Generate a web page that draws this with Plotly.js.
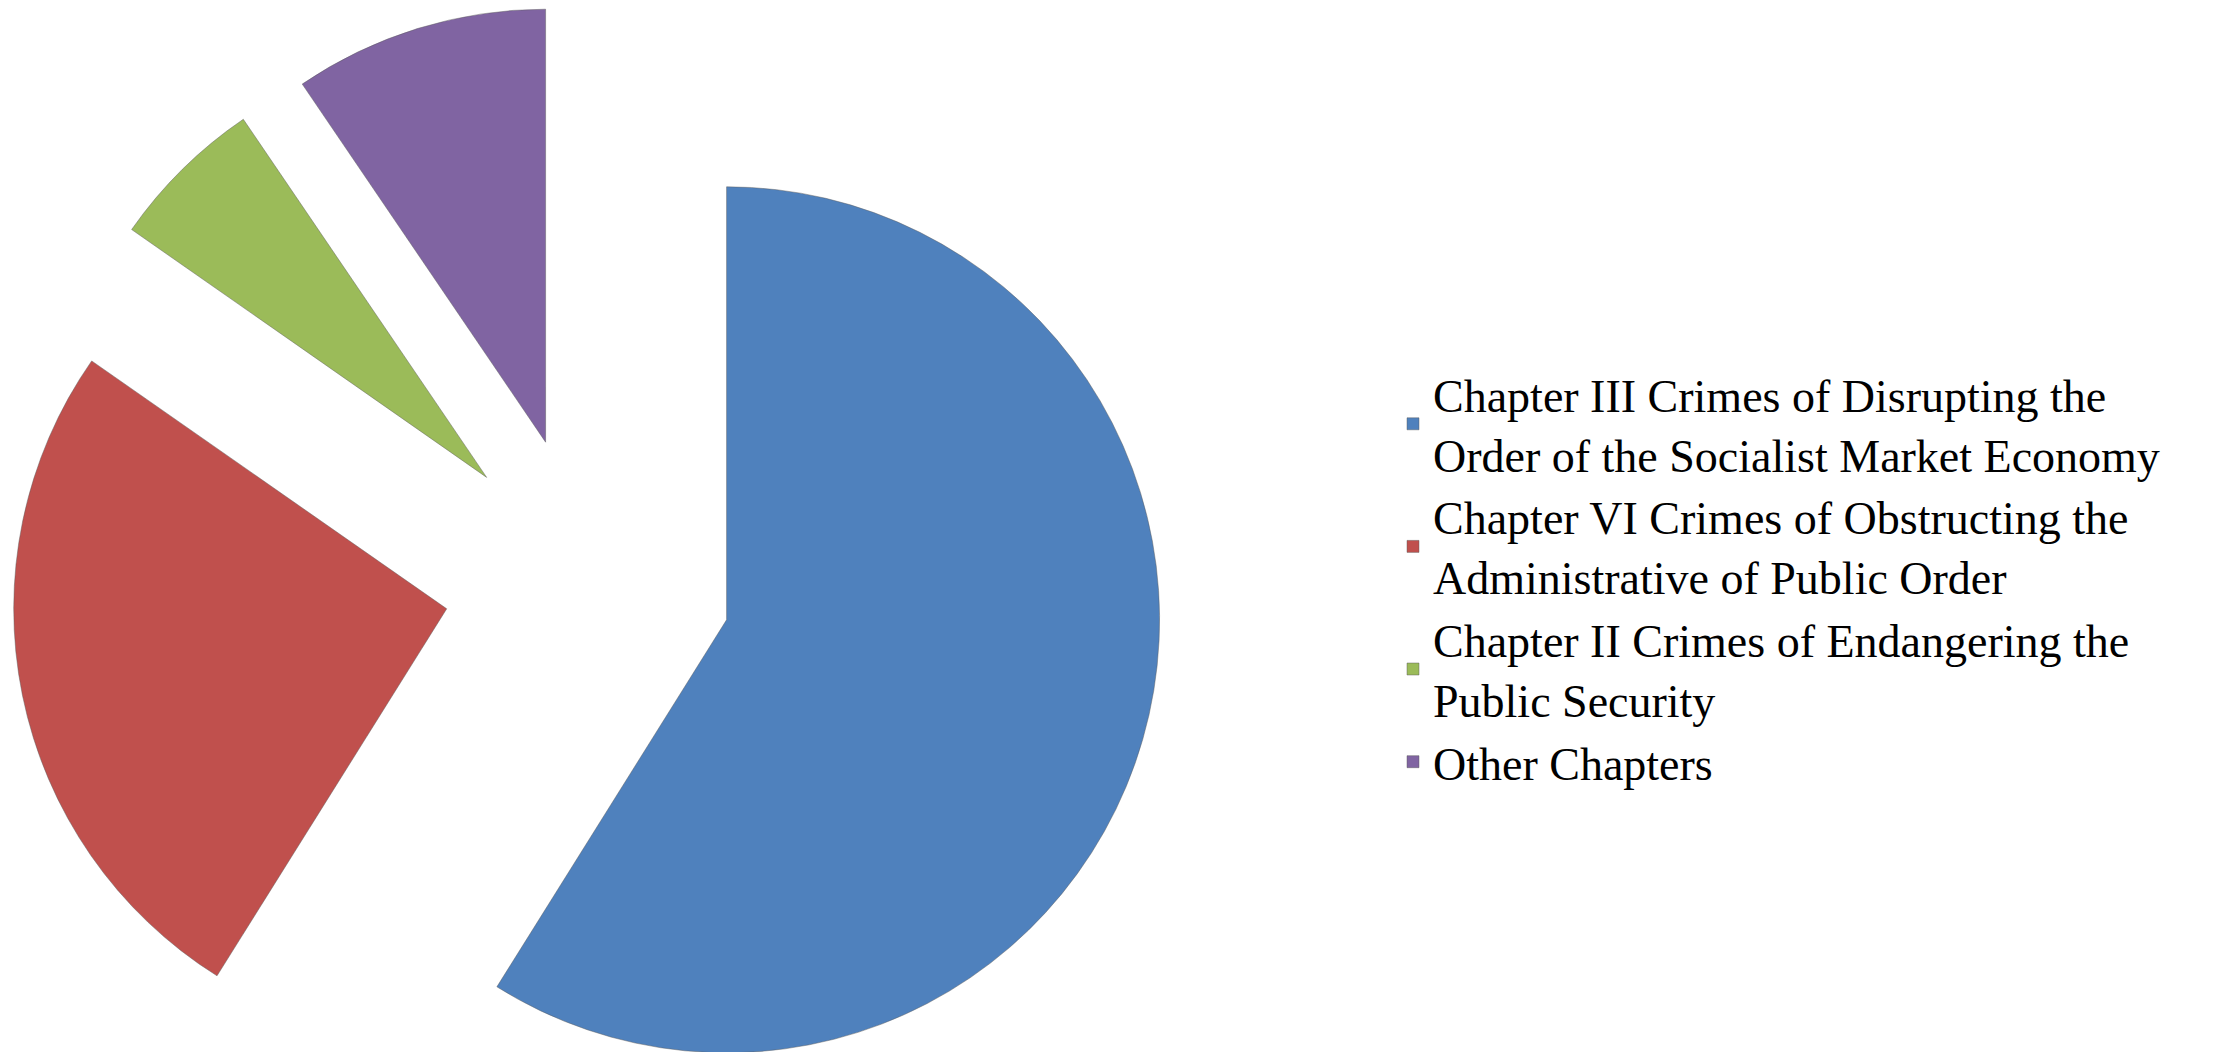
<!DOCTYPE html>
<html>
<head>
<meta charset="utf-8">
<script src="https://cdn.plot.ly/plotly-3.0.1.min.js"></script>
<style>
  html, body { margin: 0; padding: 0; overflow: hidden; background: #ffffff; }
  #chart { width: 2218px; height: 1160px; }
</style>
</head>
<body>
<div id="chart"></div>
<script>
// ---- data ----
const categories = [
  "Chapter III Crimes of Disrupting the<br>Order of the Socialist Market Economy",
  "Chapter VI Crimes of Obstructing the<br>Administrative of Public Order",
  "Chapter II Crimes of Endangering the<br>Public Security",
  "Other Chapters"
];
const shares = [58.9, 25.8, 5.8, 9.5];
const sliceColors = ["#4F81BD", "#C0504D", "#9BBB59", "#8064A2"];

// ---- layout geometry (pixels) ----
const figW = 2218, figH = 1160;
const pullFrac = 0.333;
const radius = 433;
const centerX = 588, centerY = 580;
const half = radius * (1 + pullFrac);

const trace = {
  type: "pie",
  labels: categories,
  values: shares,
  sort: false,
  direction: "clockwise",
  rotation: 0,
  pull: shares.map(() => pullFrac),
  textinfo: "none",
  hoverinfo: "label+percent",
  marker: { colors: sliceColors, line: { color: "rgba(90,90,90,0.45)", width: 1 } },
  domain: {
    x: [(centerX - half) / figW, (centerX + half) / figW],
    y: [1 - (centerY + half) / figH, 1 - (centerY - half) / figH]
  }
};

const layout = {
  width: figW,
  height: figH,
  margin: { l: 0, r: 0, t: 0, b: 0, pad: 0 },
  paper_bgcolor: "#ffffff",
  plot_bgcolor: "#ffffff",
  showlegend: true,
  legend: {
    x: 1393 / figW,
    xanchor: "left",
    y: 1 - 578 / figH,
    yanchor: "middle",
    font: { family: "Liberation Serif, Times New Roman, serif", size: 46, color: "#000000" },
    bgcolor: "rgba(0,0,0,0)",
    borderwidth: 0,
    tracegroupgap: 0,
    itemclick: false
  }
};

Plotly.newPlot("chart", [trace], layout, { displayModeBar: false, staticPlot: true });
</script>
</body>
</html>
